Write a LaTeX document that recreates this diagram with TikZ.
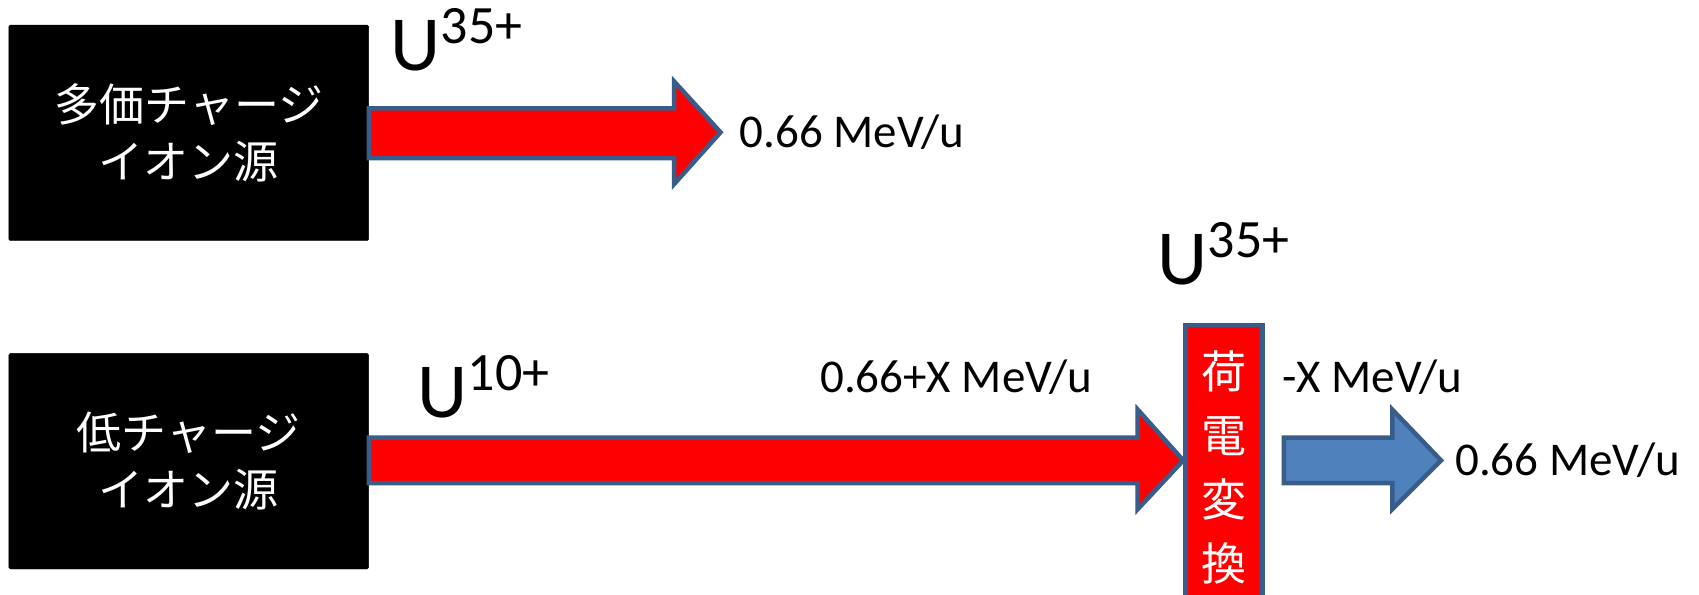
\documentclass[tikz,border=0pt]{standalone}
\usepackage{fontspec}
\setmainfont{Carlito}
\newfontfamily\jp{Noto Sans CJK JP}
\definecolor{edge}{HTML}{385D8A}
\definecolor{bluefill}{HTML}{4F81BD}
\definecolor{redfill}{HTML}{FF0000}
\begin{document}
\begin{tikzpicture}[x=1pt,y=-1pt,
  srcbox/.style={fill=black,draw=black,rounded corners=1.5pt,minimum width=359.7pt,minimum height=215.6pt,inner sep=0pt,anchor=north west,text=white,font=\jp\fontsize{45}{57}\selectfont,align=center},
  lbl/.style={anchor=west,inner sep=0pt,font=\fontsize{47}{47}\selectfont},
  bigU/.style={anchor=base west,inner sep=0pt,font=\fontsize{78}{78}\selectfont},
  sup/.style={anchor=base west,inner sep=0pt,font=\fontsize{54}{54}\selectfont},
  beam/.style={draw=edge,line width=4.5pt,line join=miter}
]
\useasboundingbox (0,0) rectangle (1699,594);
% sources
\node[srcbox] (src1) at (8.7,24.9) {多価チャージ\\イオン源};
\node[srcbox] (src2) at (8.7,353.2) {低チャージ\\イオン源};
% charge stripper
\node[fill=redfill,draw=edge,line width=4.5pt,minimum width=77pt,minimum height=290pt,anchor=north west,inner sep=0pt] (strip) at (1183.2,322.9) {};
\node[text=white,font=\jp\fontsize{45}{64}\selectfont,align=center,anchor=north,inner sep=0pt] (striptext) at ([yshift=-28pt]strip.north) {荷\\電\\変\\換};
% arrow 1
\coordinate (a1top) at (src1.east |- 0,108.4);
\coordinate (a1bot) at (src1.east |- 0,158.2);
\draw[beam,fill=redfill] (a1top) -- (674,108.4) -- (674,81.3) -- (720.5,132.3) -- (674,184.2) -- (674,158.2) -- (a1bot) -- cycle;
\coordinate (a1tip) at (720.5,132.3);
\node[lbl] (e1) at ([xshift=19pt]a1tip) {0.66 MeV/u};
\node[bigU] (u1) at (390,70.4) {U};
\node[sup] (s1) at ([yshift=27pt]u1.base east) {35+};
% arrow 2
\coordinate (a2top) at (src2.east |- 0,437.7);
\coordinate (a2bot) at (src2.east |- 0,483.2);
\draw[beam,fill=redfill] (a2top) -- (1137.7,437.7) -- (1137.7,409.6) -- (strip.west |- 0,460.4) -- (1137.7,509.2) -- (1137.7,483.2) -- (a2bot) -- cycle;
\node[bigU] (u2) at (417,417) {U};
\node[sup] (s2) at ([yshift=27pt]u2.base east) {10+};
\node[lbl] (e2) at (820,377) {0.66+X MeV/u};
% stripped beam
\node[bigU] (u3) at (1157,284) {U};
\node[sup] (s3) at ([yshift=27pt]u3.base east) {35+};
\node[lbl] (e3) at (1282,377) {-X MeV/u};
\draw[beam,fill=bluefill] (1283.9,437.7) -- (1392.3,437.7) -- (1392.3,409.6) -- (1441,460.4) -- (1392.3,509.2) -- (1392.3,483.2) -- (1283.9,483.2) -- cycle;
\coordinate (btip) at (1441,460.4);
\node[lbl] (e4) at ([xshift=14pt]btip) {0.66 MeV/u};
\end{tikzpicture}
\end{document}
